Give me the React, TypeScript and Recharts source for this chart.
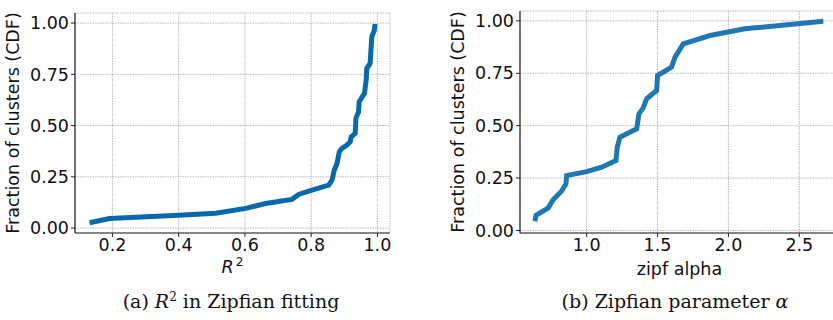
import React from 'react';
import { LineChart, Line, XAxis, YAxis, CartesianGrid, Label } from 'recharts';

// (a) R^2 of the Zipfian fit, CDF over clusters
const r2Values = [
  0.131, 0.191, 0.4, 0.512, 0.602, 0.662, 0.742, 0.762, 0.802, 0.853, 0.863, 0.87, 0.878,
  0.885, 0.893, 0.908, 0.918, 0.921, 0.933, 0.935, 0.943, 0.945, 0.961, 0.966, 0.968, 0.978,
  0.983, 0.991, 0.993,
];
const r2Cdf = [
  0.026, 0.047, 0.063, 0.072, 0.096, 0.12, 0.14, 0.164, 0.185, 0.21, 0.234, 0.283, 0.315,
  0.372, 0.389, 0.405, 0.421, 0.445, 0.462, 0.535, 0.567, 0.616, 0.657, 0.722, 0.779, 0.803,
  0.933, 0.966, 0.995,
];

// (b) fitted zipf alpha, CDF over clusters
const alphaValues = [
  0.635, 0.643, 0.729, 0.765, 0.824, 0.854, 0.859, 1.0, 1.106, 1.207, 1.216, 1.235, 1.353,
  1.369, 1.399, 1.423, 1.494, 1.5, 1.599, 1.623, 1.681, 1.87, 2.116, 2.669,
];
const alphaCdf = [
  0.044, 0.072, 0.108, 0.148, 0.188, 0.222, 0.262, 0.281, 0.302, 0.334, 0.397, 0.445, 0.485,
  0.556, 0.585, 0.628, 0.668, 0.739, 0.779, 0.826, 0.89, 0.93, 0.962, 0.998,
];

const yTicks = [0, 0.25, 0.5, 0.75, 1.0];
const r2Ticks = [0.2, 0.4, 0.6, 0.8, 1.0];
const alphaTicks = [1.0, 1.5, 2.0, 2.5];

const r2Data = r2Values.map((x, i) => ({ x, y: r2Cdf[i] }));
const alphaData = alphaValues.map((x, i) => ({ x, y: alphaCdf[i] }));

const sans = 'DejaVu Sans, sans-serif';
const serif = '"DejaVu Serif", serif';
const FS = 17.5;
const tickStyle = { fontFamily: sans, fontSize: FS, fill: '#111' };
const spine = '#222';

const R2Label = (props: any) => {
  const vb = props.viewBox;
  const cx = vb.x + vb.width / 2;
  return (
    <text x={cx} y={vb.y + 40} textAnchor="middle" fontFamily={sans} fontSize={FS} fill="#111">
      <tspan fontStyle="italic">R</tspan>
      <tspan fontSize={12} dx={2} dy={-7}>2</tspan>
    </text>
  );
};

function CdfChart(props: {
  data: { x: number; y: number }[];
  xDomain: [number, number];
  yDomain: [number, number];
  xTicks: number[];
  color: string;
  width: number;
  margin: any;
  yWidth: number;
  yLabelOffset: number;
  xLabel: React.ReactNode;
}) {
  const { data, xDomain, yDomain, xTicks, color, width, margin, yWidth, yLabelOffset, xLabel } = props;
  return (
    <LineChart width={width} height={290} data={data} margin={margin}>
      <CartesianGrid
        xAxisId="b"
        yAxisId="l"
        stroke="#b0b0b0"
        strokeDasharray="1.5 1"
        strokeWidth={0.9}
      />
      <XAxis
        xAxisId="b"
        dataKey="x"
        type="number"
        domain={xDomain}
        ticks={xTicks}
        tickFormatter={(v: number) => v.toFixed(1)}
        tick={tickStyle}
        tickSize={4}
        tickLine={{ stroke: spine }}
        axisLine={{ stroke: spine, strokeWidth: 1.2 }}
        height={44}
        allowDataOverflow
      >
        {xLabel}
      </XAxis>
      <XAxis
        xAxisId="t"
        orientation="top"
        type="number"
        domain={xDomain}
        tick={false}
        tickLine={false}
        height={0}
        axisLine={{ stroke: spine, strokeWidth: 1.2 }}
        allowDataOverflow
      />
      <YAxis
        yAxisId="l"
        type="number"
        domain={yDomain}
        ticks={yTicks}
        tickFormatter={(v: number) => v.toFixed(2)}
        tick={tickStyle}
        tickSize={4}
        tickLine={{ stroke: spine }}
        axisLine={{ stroke: spine, strokeWidth: 1.2 }}
        width={yWidth}
        allowDataOverflow
      >
        <Label
          value="Fraction of clusters (CDF)"
          angle={-90}
          position="insideLeft"
          offset={yLabelOffset}
          style={{ fontFamily: sans, fontSize: FS, fill: '#111', textAnchor: 'middle' }}
        />
      </YAxis>
      <YAxis
        yAxisId="r"
        orientation="right"
        type="number"
        domain={yDomain}
        tick={false}
        tickLine={false}
        width={0}
        axisLine={{ stroke: spine, strokeWidth: 1.2 }}
        allowDataOverflow
      />
      <Line
        xAxisId="b"
        yAxisId="l"
        dataKey="y"
        type="linear"
        stroke={color}
        strokeWidth={5}
        dot={false}
        isAnimationActive={false}
      />
    </LineChart>
  );
}

export default function App() {
  return (
    <div style={{ position: 'absolute', left: 0, top: 0, width: 833, height: 320, background: '#fff', overflow: 'hidden' }}>
      <div style={{ position: 'absolute', left: 0, top: 0 }}>
        <CdfChart
          data={r2Data}
          xDomain={[0.087, 1.038]}
          yDomain={[-0.024, 1.049]}
          xTicks={r2Ticks}
          color="#0868ac"
          width={420}
          margin={{ top: 13, right: 30, bottom: 13, left: 4 }}
          yWidth={71}
          yLabelOffset={9}
          xLabel={<Label content={R2Label} />}
        />
      </div>
      <div style={{ position: 'absolute', left: 420, top: 0 }}>
        <CdfChart
          data={alphaData}
          xDomain={[0.53, 2.78]}
          yDomain={[-0.012, 1.047]}
          xTicks={alphaTicks}
          color="#1f77b4"
          width={425}
          margin={{ top: 11, right: 6, bottom: 13, left: 29 }}
          yWidth={71}
          yLabelOffset={9}
          xLabel={
            <Label
              value="zipf alpha"
              position="insideBottom"
              offset={2}
              style={{ fontFamily: sans, fontSize: FS, fill: '#111' }}
            />
          }
        />
      </div>
      <div style={{ position: 'absolute', left: 0, width: 462, top: 290, textAlign: 'center', fontFamily: serif, fontSize: 19, color: '#111', whiteSpace: 'nowrap' }}>
        (a) <i>R</i>
        <sup style={{ fontSize: 12, lineHeight: 0 }}>2</sup> in Zipfian fitting
      </div>
      <div style={{ position: 'absolute', left: 420, width: 510, top: 290, textAlign: 'center', fontFamily: serif, fontSize: 19, color: '#111', whiteSpace: 'nowrap' }}>
        (b) Zipfian parameter <i>α</i>
      </div>
    </div>
  );
}
